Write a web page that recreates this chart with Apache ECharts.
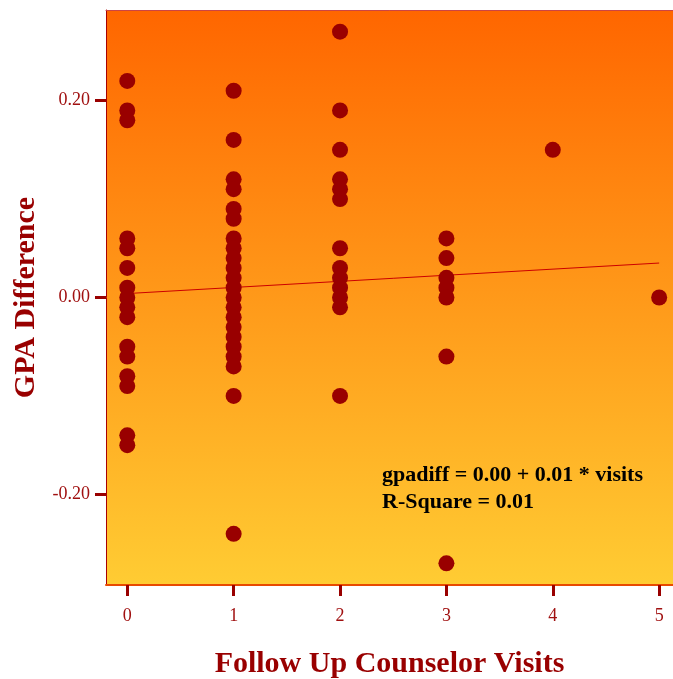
<!DOCTYPE html>
<html>
<head>
<meta charset="utf-8">
<script src="https://cdn.jsdelivr.net/npm/echarts@6/dist/echarts.min.js"></script>
<style>
html,body{margin:0;padding:0;background:#fff;}
#chart{width:673px;height:679px;}
</style>
</head>
<body>
<div id="chart"></div>
<script>
// Data
var visitCategories = [0, 1, 2, 3, 4, 5];
var gpaVisits0 = [0.22, 0.19, 0.18, 0.06, 0.05, 0.03, 0.01, 0.00, -0.01, -0.02, -0.05, -0.06, -0.08, -0.09, -0.14, -0.15];
var gpaVisits1 = [0.21, 0.16, 0.12, 0.11, 0.09, 0.08, 0.06, 0.05, 0.04, 0.03, 0.02, 0.01, 0.00, -0.01, -0.02, -0.03, -0.04, -0.05, -0.06, -0.07, -0.10, -0.24];
var gpaVisits2 = [0.27, 0.19, 0.15, 0.12, 0.11, 0.10, 0.05, 0.03, 0.02, 0.01, 0.00, -0.01, -0.10];
var gpaVisits3 = [0.06, 0.04, 0.02, 0.01, 0.00, -0.06, -0.27];
var gpaVisits4 = [0.15];
var gpaVisits5 = [0.00];
var fitLineX = [0, 5];
var fitLineY = [0.004, 0.035];
var yTickValues = [-0.2, 0, 0.2];
var xTickValues = [0, 1, 2, 3, 4, 5];
var annotationLines = ['gpadiff = 0.00 + 0.01 * visits', 'R-Square = 0.01'];

var groups = [gpaVisits0, gpaVisits1, gpaVisits2, gpaVisits3, gpaVisits4, gpaVisits5];
var scatterData = [];
groups.forEach(function (vals, i) {
  vals.forEach(function (v) { scatterData.push([visitCategories[i], v]); });
});
var lineData = fitLineX.map(function (x, i) { return [x, fitLineY[i]]; });

var darkRed = '#990000';
var serif = '"Liberation Serif", "DejaVu Serif", serif';

var chart = echarts.init(document.getElementById('chart'), null, {renderer: 'canvas'});
chart.setOption({
  animation: false,
  grid: {
    left: 106, right: 0, top: 10, bottom: 94,
    containLabel: false,
    outerBoundsMode: 'none',
    show: true,
    borderWidth: 0,
    backgroundColor: new echarts.graphic.LinearGradient(0, 0, 0, 1, [
      {offset: 0, color: '#FF6600'},
      {offset: 1, color: '#FFCC33'}
    ])
  },
  xAxis: [{
    type: 'value',
    min: -0.2, max: 5.13,
    position: 'bottom',
    name: 'Follow Up Counselor Visits',
    nameLocation: 'middle',
    nameGap: 64,
    nameTextStyle: {fontFamily: serif, fontWeight: 'bold', fontSize: 30, color: darkRed},
    axisLine: {show: true, onZero: false, lineStyle: {color: '#E84A00', width: 2}},
    axisTick: {show: true, length: 11, customValues: xTickValues, lineStyle: {color: darkRed, width: 3}},
    axisLabel: {customValues: xTickValues, fontFamily: serif, fontSize: 18, color: '#A01010', margin: 22},
    splitLine: {show: false}
  }, {
    type: 'value',
    min: -0.2, max: 5.13,
    position: 'top',
    axisLine: {show: true, onZero: false, lineStyle: {color: '#CC4444', width: 1}},
    axisTick: {show: false},
    axisLabel: {show: false},
    splitLine: {show: false}
  }],
  yAxis: {
    type: 'value',
    min: -0.292, max: 0.292,
    name: 'GPA Difference',
    nameLocation: 'middle',
    nameGap: 63,
    nameRotate: 90,
    nameTextStyle: {fontFamily: serif, fontWeight: 'bold', fontSize: 30, color: darkRed},
    axisLine: {show: true, onZero: false, lineStyle: {color: '#AA0000', width: 1}},
    axisTick: {show: true, length: 11, customValues: yTickValues, lineStyle: {color: darkRed, width: 3}},
    axisLabel: {
      customValues: yTickValues, fontFamily: serif, fontSize: 18, color: '#A01010', margin: 16,
      formatter: function (v) { return v.toFixed(2); }
    },
    splitLine: {show: false}
  },
  series: [{
    type: 'scatter',
    data: scatterData,
    symbol: 'circle',
    symbolSize: 16,
    itemStyle: {color: darkRed, opacity: 1},
    z: 3
  }, {
    type: 'line',
    data: lineData,
    showSymbol: false,
    lineStyle: {color: '#CC0000', width: 1},
    z: 2
  }],
  graphic: [{
    type: 'text',
    left: 382, top: 462,
    style: {
      text: annotationLines.join('\n'),
      font: 'bold 22px ' + serif,
      fill: '#000',
      lineHeight: 27
    }
  }]
});
</script>
</body>
</html>
